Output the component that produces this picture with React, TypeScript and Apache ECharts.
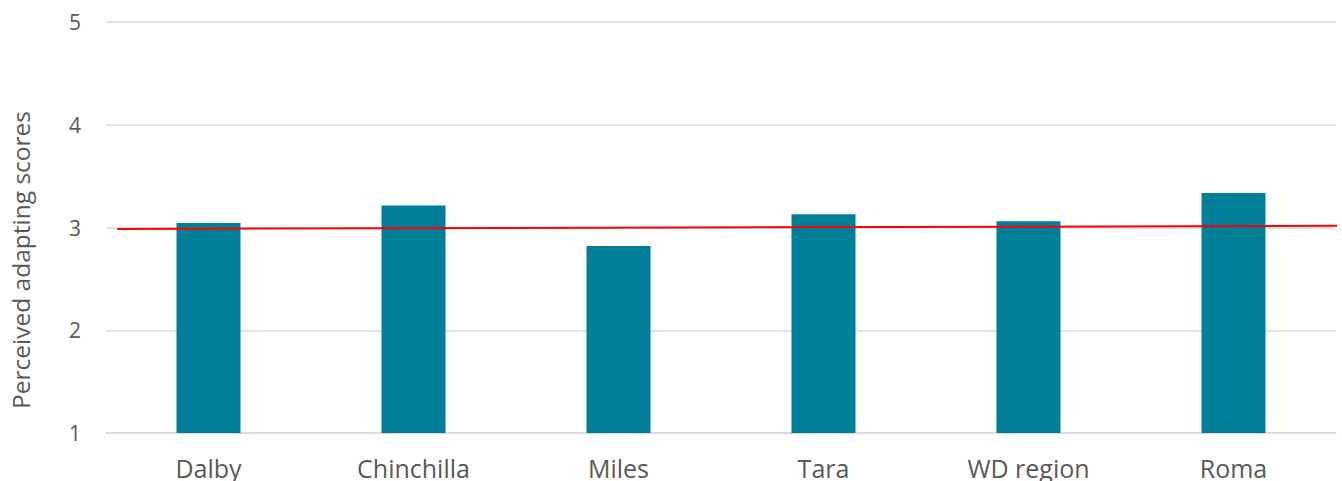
import React, { useEffect, useRef } from "react";
import * as echarts from "echarts";

const categories = ["Dalby", "Chinchilla", "Miles", "Tara", "WD region", "Roma"];
const scores = [3.045, 3.215, 2.82, 3.13, 3.06, 3.335];
const yTicks = [1, 2, 3, 4, 5];
// reference line endpoints: [position along category span (0..6), score]
const refLine = [
  [0.055, 2.986],
  [6.01, 3.016],
];
const yTitle = "Perceived adapting scores";

export default function App() {
  const ref = useRef<HTMLDivElement>(null);
  useEffect(() => {
    document.body.style.margin = "0";
    const chart = echarts.init(ref.current!, null, { renderer: "svg" });
    const font = "'Open Sans', 'Noto Sans', sans-serif";
    chart.setOption({
      animation: false,
      grid: { left: 106, right: 6, top: 22, bottom: 48, containLabel: false },
      xAxis: [
        {
          type: "category",
          data: categories,
          axisLine: { lineStyle: { color: "#d9d9d9", width: 1.5 } },
          axisTick: { show: false },
          axisLabel: { color: "#595959", fontSize: 25, fontFamily: font, margin: 22 },
        },
        {
          type: "value",
          min: 0,
          max: 6,
          show: false,
        },
      ],
      yAxis: {
        type: "value",
        min: yTicks[0],
        max: yTicks[yTicks.length - 1],
        interval: 1,
        axisLine: { show: false },
        axisTick: { show: false },
        splitLine: { lineStyle: { color: "#d9d9d9", width: 1.5 } },
        axisLabel: { color: "#595959", fontSize: 21, fontFamily: font, margin: 25 },
      },
      graphic: [
        {
          type: "text",
          x: 20,
          y: 260,
          rotation: Math.PI / 2,
          style: {
            text: yTitle,
            fill: "#595959",
            fontSize: 24.5,
            fontFamily: font,
            align: "center",
            verticalAlign: "middle",
          },
        },
      ],
      series: [
        {
          type: "bar",
          data: scores,
          barWidth: 64,
          itemStyle: { color: "#007F99" },
        },
        {
          type: "line",
          xAxisIndex: 1,
          data: refLine,
          symbol: "none",
          clip: false,
          lineStyle: { color: "#ff0000", width: 2 },
        },
      ],
    });
    return () => chart.dispose();
  }, []);
  return <div ref={ref} style={{ width: 1342, height: 481 }} />;
}
